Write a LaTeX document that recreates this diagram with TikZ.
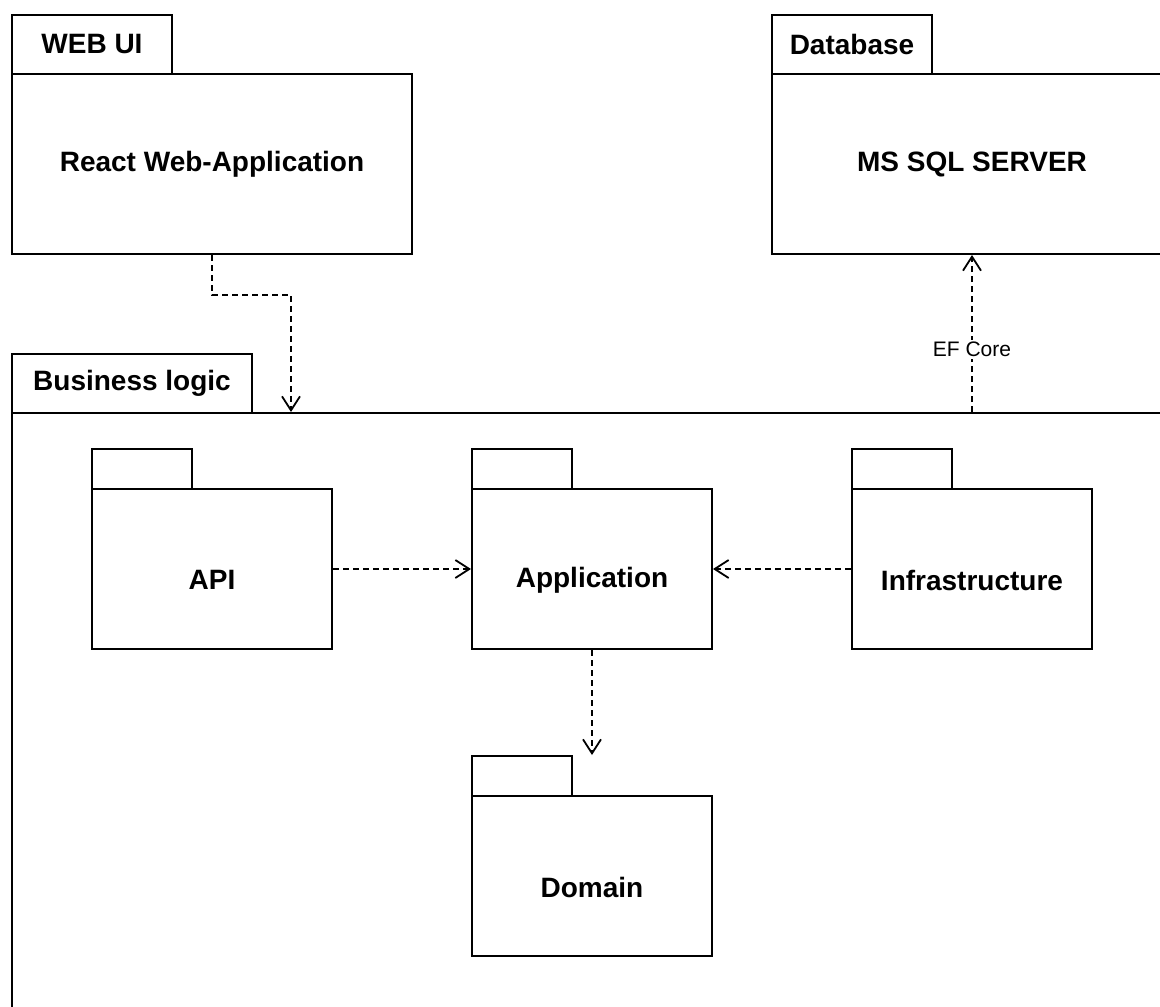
\documentclass[tikz,border=0pt]{standalone}
\usepackage{fontspec}
\setmainfont{Liberation Sans}
\usetikzlibrary{arrows.meta,positioning}

\begin{document}
\begin{tikzpicture}[x=1pt,y=-1pt,
    box/.style={draw, line width=2pt, anchor=north west, inner sep=0pt,
        font=\fontsize{28}{32}\selectfont\bfseries},
    tab/.style={box, minimum height=59pt},
    pkgtab/.style={box, minimum width=100pt, minimum height=40pt},
    pkg/.style={box, minimum width=240pt, minimum height=160pt},
    pkgtext/.style={yshift=-11pt, font=\fontsize{28}{32}\selectfont\bfseries},
    dep/.style={line width=1.8pt, dash pattern=on 6pt off 4pt,
        -{Straight Barb[length=14pt,width=18pt,line width=1.8pt]}}]
    \useasboundingbox (0,0) rectangle (1160,1007);
    \clip (0,0) rectangle (1160,1007);

    % WEB UI
    \node[tab, minimum width=160pt] (webtab) at (11,14) {WEB UI};
    \node[box, minimum width=400pt, minimum height=180pt] (web) at (11,73) {React Web-Application};

    % Database
    \node[tab, minimum width=160pt] (dbtab) at (771,14) {Database};
    \node[box, minimum width=400pt, minimum height=180pt] (db) at (771,73) {MS SQL SERVER};

    % Business logic
    \node[tab, minimum width=240pt] (bltab) at (11,353) {Business logic};
    \node[box, minimum width=1250pt, minimum height=700pt] (bl) at (11,412) {};

    % Inner packages
    \node[pkgtab] (apitab) at (91,448) {};
    \node[pkg, label={[pkgtext]center:API}] (api) at (91,488) {};

    \node[pkgtab] (apptab) at (471,448) {};
    \node[pkg, label={[pkgtext]center:Application}] (app) at (471,488) {};

    \node[pkgtab] (infratab) at (851,448) {};
    \node[pkg, label={[pkgtext]center:Infrastructure}] (infra) at (851,488) {};

    \node[pkgtab] (domtab) at (471,755) {};
    \node[pkg, label={[pkgtext]center:Domain}] (dom) at (471,795) {};

    % Dependencies
    \coordinate (blin) at (291,412);
    \draw[dep] (web.south) -- ++(0,40) -| (blin);
    \draw[dep] (api.east) -- (app.west);
    \draw[dep] (infra.west) -- (app.east);
    \draw[dep] (app.south) -- (app.south |- domtab.north);
    \draw[dep] (bl.north -| db.south) -- (db.south)
        node[pos=0.4, fill=white, inner sep=2pt, font=\fontsize{21}{24}\selectfont] {EF Core};
\end{tikzpicture}
\end{document}
